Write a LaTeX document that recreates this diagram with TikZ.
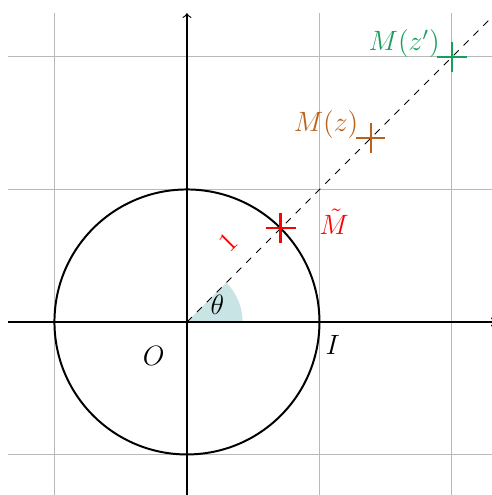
\documentclass[tikz,border=0pt]{standalone}
\usetikzlibrary{shapes.misc}
\definecolor{mzcol}{RGB}{185,98,28}
\definecolor{mzpcol}{RGB}{20,160,90}
\definecolor{wedgecol}{RGB}{200,228,228}
\tikzset{
  gridline/.style={gray!55,line width=0.4pt},
  axisline/.style={line width=0.5pt,->},
  plus/.style={draw,cross out,rotate=45,minimum size=0.283cm,inner sep=0pt,line width=1pt},
  lbl/.style={font=\fontsize{11.5}{13}\selectfont,inner sep=0pt}
}
\begin{document}
\begin{tikzpicture}[x=2cm,y=2cm]
\useasboundingbox (-1.411,-1.306) rectangle (2.302,2.430);
\draw[gridline,step=2cm] (-1.35,-1.35) grid (2.33,2.33);
\coordinate (O) at (0,0);
\coordinate (I) at (1,0);
\coordinate (Mt) at (45:1);
\coordinate (Mz) at (1.387,1.387);
\coordinate (Mzp) at (2,2);
\coordinate (E) at (2.3,2.3);
\coordinate (xs) at (-1.35,0);
\coordinate (xe) at (2.33,0);
\coordinate (ys) at (0,-1.35);
\coordinate (ye) at (0,2.33);
\fill[wedgecol] (O) -- (0.42,0) arc (0:45:0.42) -- cycle;
\draw[axisline] (xs) -- (xe);
\draw[axisline] (ys) -- (ye);
\draw[line width=0.85pt] (O) circle (1);
\draw[dashed,line width=0.4pt] (O) -- (E);
\node[plus,line width=0.8pt] (po) at (O) {};
\node[plus,red] (pt) at (Mt) {};
\node[plus,mzcol,line width=0.9pt] (pz) at (Mz) {};
\node[plus,mzpcol] (pzp) at (Mzp) {};
\node[lbl,red] (lt) at (1.11,0.76) {$\tilde{M}$};
\node[lbl,red,rotate=45] (l1) at (0.31,0.60) {$1$};
\node[lbl] (lth) at (0.23,0.13) {$\theta$};
\node[lbl] (lO) at (-0.25,-0.26) {$O$};
\node[lbl] (lI) at (1.10,-0.17) {$I$};
\node[lbl,mzcol] (lz) at (1.05,1.49) {$M(z)$};
\node[lbl,mzpcol] (lzp) at (1.64,2.10) {$M(z')$};
\end{tikzpicture}
\end{document}
